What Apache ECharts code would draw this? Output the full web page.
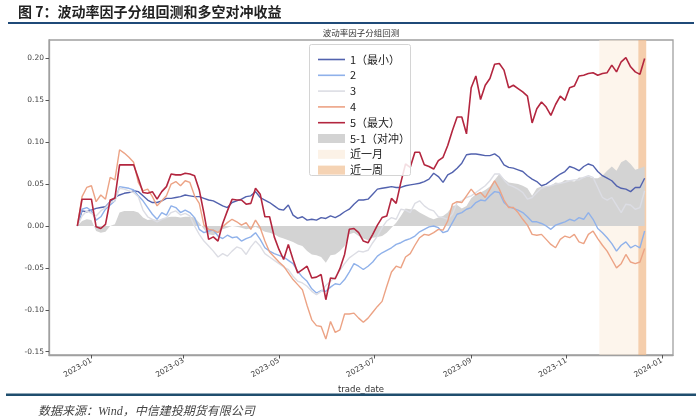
<!DOCTYPE html>
<html><head><meta charset="utf-8">
<script src="https://cdn.jsdelivr.net/npm/echarts@6/dist/echarts.min.js"></script>
<style>html,body{margin:0;padding:0;background:#fff}#c{width:700px;height:420px}</style>
</head><body><div id="c"></div>
<script>
const dates = ['2022-12-23','2022-12-26','2022-12-29','2023-01-01','2023-01-04','2023-01-07','2023-01-10','2023-01-13','2023-01-16','2023-01-19',
'2023-01-22','2023-01-25','2023-01-28','2023-01-31','2023-02-03','2023-02-06','2023-02-09','2023-02-12','2023-02-15','2023-02-18',
'2023-02-21','2023-02-24','2023-02-27','2023-03-02','2023-03-05','2023-03-08','2023-03-11','2023-03-14','2023-03-17','2023-03-20',
'2023-03-23','2023-03-26','2023-03-29','2023-04-01','2023-04-04','2023-04-07','2023-04-10','2023-04-13','2023-04-16','2023-04-19',
'2023-04-22','2023-04-25','2023-04-28','2023-05-01','2023-05-04','2023-05-07','2023-05-10','2023-05-13','2023-05-16','2023-05-19',
'2023-05-22','2023-05-25','2023-05-28','2023-05-31','2023-06-03','2023-06-06','2023-06-09','2023-06-12','2023-06-15','2023-06-18',
'2023-06-21','2023-06-24','2023-06-27','2023-06-30','2023-07-03','2023-07-06','2023-07-09','2023-07-12','2023-07-15','2023-07-18',
'2023-07-21','2023-07-24','2023-07-27','2023-07-30','2023-08-02','2023-08-05','2023-08-08','2023-08-11','2023-08-14','2023-08-17',
'2023-08-20','2023-08-23','2023-08-26','2023-08-29','2023-09-01','2023-09-04','2023-09-07','2023-09-10','2023-09-13','2023-09-16',
'2023-09-19','2023-09-22','2023-09-25','2023-09-28','2023-10-01','2023-10-04','2023-10-07','2023-10-10','2023-10-13','2023-10-16',
'2023-10-19','2023-10-22','2023-10-25','2023-10-28','2023-10-31','2023-11-03','2023-11-06','2023-11-09','2023-11-12','2023-11-15',
'2023-11-18','2023-11-21','2023-11-24','2023-11-27','2023-11-30','2023-12-03','2023-12-06','2023-12-09','2023-12-12','2023-12-15',
'2023-12-18','2023-12-21'];

const g1 = [0,.018,.017,.019,.021,.022,.023,.029,.034,.037,
.039,.040,.042,.041,.036,.031,.028,.028,.030,.033,
.033,.034,.035,.037,.036,.035,.035,.033,.031,.030,
.027,.024,.022,.028,.030,.032,.035,.036,.041,.034,
.031,.028,.024,.020,.019,.025,.013,.009,.011,.007,
.008,.007,.010,.009,.012,.010,.013,.017,.020,.026,
.031,.031,.032,.038,.044,.045,.046,.047,.046,.046,
.048,.049,.050,.051,.053,.056,.063,.059,.052,.061,
.064,.069,.075,.085,.086,.086,.085,.084,.084,.086,
.082,.073,.070,.069,.067,.065,.060,.056,.053,.048,
.050,.054,.058,.062,.065,.071,.069,.066,.071,.074,
.072,.065,.060,.057,.054,.048,.045,.044,.041,.046,
.046,.057];

const g2 = [0,.020,.022,.018,.007,.011,.020,.025,.030,.047,
.046,.045,.043,.036,.030,.022,.014,.008,.016,.013,
.024,.022,.016,.019,.016,.010,-.004,-.008,-.006,-.005,
-.012,-.015,-.011,-.014,-.013,-.018,-.015,-.013,-.008,-.016,
-.026,-.030,-.033,-.035,-.037,-.041,-.045,-.054,-.061,-.066,
-.075,-.080,-.077,-.078,-.073,-.069,-.070,-.064,-.055,-.045,
-.048,-.052,-.048,-.043,-.036,-.032,-.029,-.026,-.022,-.020,
-.017,-.015,-.012,-.007,-.004,-.001,.000,-.002,-.008,-.006,
.004,.014,.016,.020,.022,.028,.031,.030,.036,.041,
.040,.028,.023,.021,.019,.016,.011,.005,.005,.003,
.000,-.004,.001,.003,.005,.008,.006,.010,.008,.016,
.008,-.003,-.008,-.014,-.021,-.030,-.023,-.019,-.026,-.023,
-.026,-.006];

const g3 = [0,.012,.018,.015,.012,.018,.022,.028,.030,.045,
.044,.042,.040,.035,.019,.011,.008,.005,.008,.010,
.016,.018,.013,.015,.012,.000,-.010,-.018,-.024,-.030,
-.037,-.033,-.036,-.030,-.025,-.027,-.034,-.025,-.018,-.024,
-.033,-.037,-.041,-.045,-.049,-.052,-.060,-.066,-.068,-.072,
-.078,-.082,-.078,-.071,-.066,-.061,-.053,-.045,-.038,-.034,
-.030,-.031,-.029,-.020,-.012,-.002,.006,.010,.008,.020,
.019,.016,.027,.030,.024,.020,.018,.011,.010,.008,
.014,.028,.030,.034,.036,.040,.044,.048,.054,.062,
.062,.055,.049,.047,.044,.040,.032,.034,.040,.045,
.047,.048,.050,.051,.052,.054,.055,.055,.058,.060,
.058,.046,.034,.031,.034,.025,.016,.026,.025,.020,
.022,.042];

const g4 = [0,.035,.046,.048,.029,.037,.032,.058,.055,.091,
.087,.082,.076,.052,.042,.044,.035,.024,.030,.036,
.050,.053,.048,.054,.052,.036,.027,.001,-.004,-.005,
-.008,-.001,.004,.008,.005,.001,.004,-.004,.007,-.002,
-.018,-.031,-.037,-.043,-.048,-.056,-.064,-.070,-.076,-.095,
-.112,-.119,-.120,-.135,-.114,-.127,-.124,-.105,-.105,-.104,
-.110,-.115,-.110,-.103,-.096,-.090,-.072,-.055,-.048,-.050,
-.037,-.033,-.023,-.014,-.010,-.011,-.008,-.004,-.005,.006,
.026,.029,.028,.036,.044,.037,.040,.034,.044,.054,
.044,.031,.022,.022,.016,.008,.001,-.010,-.011,-.010,
-.016,-.022,-.026,-.016,-.012,-.014,-.010,-.019,-.021,-.010,
-.006,-.015,-.023,-.030,-.040,-.050,-.045,-.034,-.043,-.045,
-.043,-.027];

const g5 = [0,.032,.032,.032,-.001,-.003,.002,.031,.033,.073,
.073,.073,.073,.057,.040,.039,.041,.032,.041,.047,
.062,.061,.061,.063,.062,.060,.043,.015,-.016,-.013,
-.018,.003,.018,.032,.031,.031,.026,.027,.045,.038,
.011,.011,-.013,-.028,-.040,-.022,-.040,-.056,-.052,-.048,
-.062,-.061,-.058,-.088,-.062,-.063,-.051,-.034,-.004,-.003,
-.008,-.018,-.020,-.010,.001,.010,.012,.033,.027,.052,
.074,.070,.088,.088,.073,.071,.068,.078,.082,.096,
.114,.130,.130,.110,.165,.179,.151,.168,.176,.193,
.194,.186,.165,.168,.164,.160,.155,.123,.140,.148,
.142,.132,.145,.155,.150,.165,.167,.179,.180,.182,
.183,.180,.182,.183,.192,.184,.196,.201,.190,.184,
.181,.200];

const hedge = [0,.006,.008,.007,-.006,-.008,-.007,.000,.002,.016,
.018,.018,.018,.016,.010,.007,.008,.007,.008,.010,
.011,.011,.010,.011,.011,.010,.004,-.004,-.010,-.011,
-.008,-.004,-.002,.000,-.001,-.002,-.004,-.003,-.001,-.004,
-.007,-.008,-.010,-.013,-.015,-.017,-.019,-.022,-.024,-.030,
-.034,-.035,-.037,-.044,-.035,-.034,-.030,-.024,-.010,-.008,
-.012,-.015,-.017,-.014,-.013,-.012,-.008,-.002,.004,.012,
.021,.020,.020,.016,.013,.010,.008,.010,.012,.016,
.024,.025,.021,.024,.033,.038,.040,.043,.047,.055,
.062,.056,.052,.051,.050,.048,.045,.036,.045,.047,
.047,.048,.052,.051,.055,.054,.053,.058,.058,.059,
.057,.057,.060,.066,.071,.066,.076,.079,.074,.067,
.069,.071];

const lineNames = ['1（最小）','2','3','4','5（最大）'];
const hedgeName = '5-1（对冲）';
const bandNames = ['近一月','近一周'];
const monthBand = ['2023-11-22','2023-12-22'];
const weekBand = ['2023-12-17','2023-12-22'];
const xTickLabels = ['2023-01','2023-03','2023-05','2023-07','2023-09','2023-11','2024-01'];
const yTickValues = [-0.15,-0.10,-0.05,0,0.05,0.10,0.15,0.20];
const yTickLabels = ['-0.15','-0.10','-0.05','0.00','0.05','0.10','0.15','0.20'];

const lineColors = ['#5262ae','#8fb1ea','#dcdde4','#eca385','#b3263f'];
const hedgeColor = '#d3d3d3';
const bandLegendColors = ['#fcf2e7','#f5d3b4'];
const bandFill = ['rgba(252,236,218,0.5)','rgba(238,168,108,0.5)'];

const ts = s => new Date(s + 'T00:00:00').getTime();
const t0 = ts(dates[0]), t1 = ts(dates[dates.length-1]);
const xpad = 0.05 * (t1 - t0);
const xTickValues = xTickLabels.map(s => ts(s + '-01'));
const pair = arr => dates.map((d, i) => [ts(d), arr[i]]);
const groups = [g1, g2, g3, g4, g5];

const series = [];
series.push({
  name: hedgeName, type: 'line', data: pair(hedge), symbol: 'none', z: 1,
  color: hedgeColor, lineStyle: {width: 0}, areaStyle: {color: hedgeColor, opacity: 1, origin: 0},
  silent: true
});
[monthBand, weekBand].forEach((b, k) => {
  series.push({
    name: bandNames[k], type: 'line', data: [[ts(b[0]), null]], symbol: 'none', z: 2, color: bandLegendColors[k], silent: true,
    markArea: {silent: true, itemStyle: {color: bandFill[k]}, data: [[{xAxis: ts(b[0])}, {xAxis: ts(b[1])}]]}
  });
});
groups.forEach((g, k) => {
  series.push({
    name: lineNames[k], type: 'line', data: pair(g), symbol: 'none', z: 3 + k,
    color: lineColors[k], lineStyle: {width: k === 4 ? 1.6 : 1.4, color: lineColors[k]}, silent: true
  });
});

const legendText = {fontSize: 11, lineHeight: 14, color: '#222', fontFamily: '"Noto Sans CJK SC", sans-serif'};
const chart = echarts.init(document.getElementById('c'), null, {renderer: 'canvas'});
chart.setOption({
  animation: false,
  backgroundColor: '#fff',
  grid: {left: 49, right: 27, top: 40, bottom: 65, show: true, borderColor: '#a0a0a0', borderWidth: 1.3, backgroundColor: 'transparent'},
  xAxis: {
    type: 'value', min: t0 - xpad, max: t1 + xpad, scale: true,
    name: 'trade_date', nameLocation: 'middle', nameGap: 26,
    nameTextStyle: {fontSize: 8.5, color: '#333', fontFamily: 'DejaVu Sans'},
    axisLine: {show: true, onZero: false, lineStyle: {color: '#a0a0a0', width: 1.3}},
    axisTick: {show: true, length: 3.5, lineStyle: {color: '#555'}, customValues: xTickValues},
    axisLabel: {
      rotate: 30, fontSize: 7.5, color: '#444', margin: 5, fontFamily: 'DejaVu Sans',
      customValues: xTickValues, showMinLabel: true, showMaxLabel: true,
      formatter: v => { const i = xTickValues.indexOf(v); return i >= 0 ? xTickLabels[i] : ''; }
    },
    splitLine: {show: false}
  },
  yAxis: {
    type: 'value', min: -0.154, max: 0.222,
    axisLine: {show: true, lineStyle: {color: '#a0a0a0', width: 1.3}},
    axisTick: {show: true, length: 3.5, lineStyle: {color: '#555'}, customValues: yTickValues},
    axisLabel: {
      fontSize: 7.5, color: '#444', margin: 5, fontFamily: 'DejaVu Sans',
      customValues: yTickValues,
      formatter: v => { const i = yTickValues.findIndex(t => Math.abs(t - v) < 1e-9); return i >= 0 ? yTickLabels[i] : ''; }
    },
    splitLine: {show: false}
  },
  legend: [
    {left: 313, top: 47.5, orient: 'vertical', itemWidth: 27, itemHeight: 1.6, itemGap: 1.8, icon: 'rect', z: 20,
     textStyle: legendText, selectedMode: false,
     data: lineNames.map((n, k) => ({name: n, icon: 'rect', itemStyle: {color: lineColors[k], borderWidth: 0}}))},
    {left: 313, top: 126.5, orient: 'vertical', itemWidth: 27, itemHeight: 9, itemGap: 1.8, icon: 'rect', z: 20,
     textStyle: legendText, selectedMode: false,
     data: [{name: hedgeName, itemStyle: {color: hedgeColor, borderWidth: 0}},
            {name: bandNames[0], itemStyle: {color: bandLegendColors[0], borderWidth: 0}},
            {name: bandNames[1], itemStyle: {color: bandLegendColors[1], borderWidth: 0}}]}
  ],
  graphic: [
    {type: 'text', left: 18, top: 5, z: 50, style: {text: '图 7：波动率因子分组回测和多空对冲收益', font: 'bold 14px "Noto Sans CJK SC"', fill: '#222'}},
    {type: 'rect', shape: {x: 8, y: 22, width: 686, height: 2}, style: {fill: '#1f4a78'}, z: 50},
    {type: 'text', x: 361, y: 33, z: 50, style: {text: '波动率因子分组回测', font: '8.5px "Noto Sans CJK SC"', fill: '#333', align: 'center', verticalAlign: 'middle'}},
    {type: 'rect', shape: {x: 309.5, y: 44.5, width: 101, height: 131, r: 2}, style: {fill: 'rgba(255,255,255,0.85)', stroke: '#d4d4d4', lineWidth: 1}, z: 15},
    {type: 'rect', shape: {x: 6, y: 393.5, width: 690, height: 2.5}, style: {fill: '#1f4e6e'}, z: 50},
    {type: 'text', left: 38, top: 406, z: 50, style: {text: '数据来源：Wind，中信建投期货有限公司', font: 'italic 12px "Liberation Serif", "Noto Sans CJK SC"', fill: '#444'}}
  ],
  series: series
});
</script></body></html>
